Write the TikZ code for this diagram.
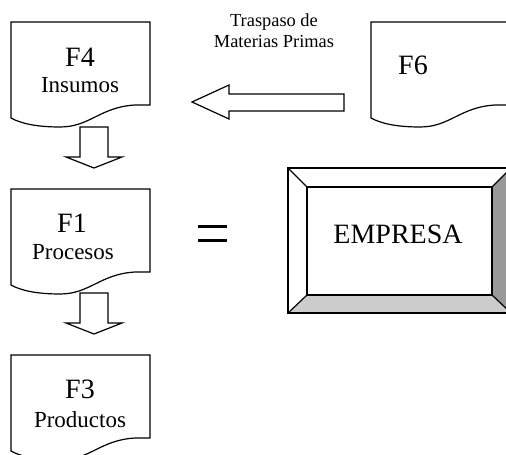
\documentclass[tikz,border=0pt]{standalone}
\usepackage{fontspec}
\setmainfont{Liberation Serif}
\usetikzlibrary{positioning}

% page with wavy bottom, #1 = top left corner
\newcommand{\docpage}[1]{%
  \draw[docline,shift={(#1)}] (0,0) -- (139,0) -- (139,83) -- (124,83)
    .. controls (89,85) and (79,105) .. (49,105)
    .. controls (24,105) and (9,101) .. (0,96) -- cycle;}
% hollow arrow pointing down, #1 = middle of its top end
\newcommand{\downblock}[1]{%
  \draw[docline,shift={(#1)}] (-14,0) -- (14,0) -- (14,30) -- (28,30)
    -- (0,41) -- (-28,30) -- (-14,30) -- cycle;}

\begin{document}
\begin{tikzpicture}[x=0.5pt,y=-0.5pt]
			\tikzstyle{docline}=[draw=black,line width=0.6pt,fill=white]
			\tikzstyle{title}=[inner sep=0pt,anchor=base,font=\fontsize{14}{16}\selectfont]
			\tikzstyle{sub}=[inner sep=0pt,anchor=base,font=\fontsize{11.5}{13}\selectfont]
			\tikzstyle{note}=[inner sep=0pt,anchor=base,font=\fontsize{9.2}{11}\selectfont]
			\clip (0,0) rectangle (506,454);

			% left column
			\docpage{11,22}
			\docpage{11,189}
			\docpage{11,355}
			\downblock{94,127}
			\downblock{94,293}

			\node[title] (f4) at (80,67) {F4};
			\node[sub] (insumos) at (80,93) {Insumos};
			\node[title] (f1) at (72,232) {F1};
			\node[sub] (procesos) at (73,259) {Procesos};
			\node[title] (f3) at (80,398) {F3};
			\node[sub] (productos) at (80,427) {Productos};

			% transfer from F6
			\docpage{371,22}
			\node[title] (f6) at (413,75) {F6};
			\draw[docline] (344,94) -- (229,94) -- (229,85) -- (192,102)
			  -- (229,119) -- (229,111) -- (344,111) -- cycle;
			\node[note] (traspaso) at (274,27) {Traspaso de};
			\node[note] (materias) at (274,48) {Materias Primas};

			% equals
			\draw[line width=1.5pt] (198,226) -- (227,226);
			\draw[line width=1.5pt] (198,240) -- (227,240);

			% company box
			\draw[docline] (288,168) rectangle (511,313);
			\fill[black!40] (492,187) -- (511,168) -- (511,313) -- (492,295) -- cycle;
			\fill[black!20] (307,295) -- (492,295) -- (511,313) -- (288,313) -- cycle;
			\draw[line width=0.6pt] (288,168) rectangle (511,313);
			\draw[line width=0.6pt] (307,187) rectangle (492,295);
			\draw[line width=0.6pt] (288,168) -- (307,187);
			\draw[line width=0.6pt] (511,168) -- (492,187);
			\draw[line width=0.6pt] (288,313) -- (307,295);
			\draw[line width=0.6pt] (511,313) -- (492,295);
			\node[title] (empresa) at (398,243) {EMPRESA};
\end{tikzpicture}
\end{document}
